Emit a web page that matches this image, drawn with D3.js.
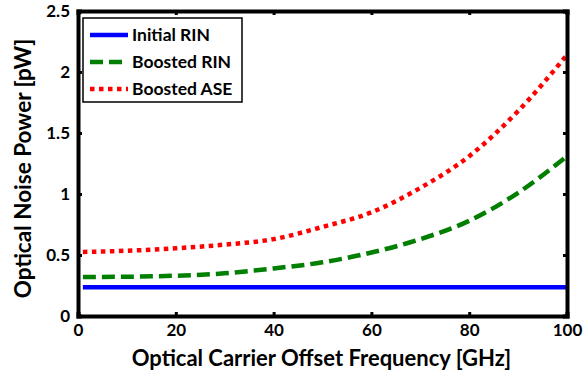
<!DOCTYPE html>
<html>
<head>
<meta charset="utf-8">
<script src="https://cdn.jsdelivr.net/npm/d3@7"></script>
<style>
  body { margin: 0; background: #fff; }
  text { font-family: Lato, "Open Sans", sans-serif; font-weight: bold; }
</style>
</head>
<body>
<svg id="chart"></svg>
<script>
const freq = [1, 10, 20, 30, 40, 50, 60, 70, 80, 90, 100];
const initialRin = [0.235, 0.235, 0.235, 0.235, 0.235, 0.235, 0.235, 0.235, 0.235, 0.235, 0.235];
const boostedRin = [0.32, 0.322, 0.33, 0.35, 0.39, 0.44, 0.52, 0.63, 0.78, 1.01, 1.31];
const boostedAse = [0.525, 0.535, 0.555, 0.585, 0.63, 0.73, 0.85, 1.05, 1.31, 1.68, 2.14];
const xTicks = [0, 20, 40, 60, 80, 100];
const yTicks = [0, 0.5, 1, 1.5, 2, 2.5];
const seriesNames = ["Initial RIN", "Boosted RIN", "Boosted ASE"];

const margin = {top: 11, right: 17, bottom: 62, left: 78},
    width = 584 - margin.left - margin.right,
    height = 378 - margin.top - margin.bottom;

const svg = d3.select("#chart")
    .attr("width", 584)
    .attr("height", 378)
    .append("g")
    .attr("transform", `translate(${margin.left}, ${margin.top})`);

const x = d3.scaleLinear().domain([0, 100]).range([0, width]);
const y = d3.scaleLinear().domain([0, 2.5]).range([height, 0]);

const series = [
    {name: seriesNames[0], values: initialRin, color: "#0000ff", dash: null, w: 4.5},
    {name: seriesNames[1], values: boostedRin, color: "#007f00", dash: "13,6", w: 4.5},
    {name: seriesNames[2], values: boostedAse, color: "#ff0000", dash: "4.5,4.5", w: 4.5}
];

const line = d3.line()
    .x((d, i) => x(freq[i]))
    .y(d => y(d))
    .curve(d3.curveMonotoneX);

svg.selectAll(".series")
    .data(series)
    .enter().append("path")
    .attr("class", "series")
    .attr("d", d => line(d.values))
    .attr("fill", "none")
    .attr("stroke", d => d.color)
    .attr("stroke-width", d => d.w)
    .attr("stroke-dasharray", d => d.dash);

// axes with inward ticks, mirrored on top and right
const xAxis = svg.append("g")
    .attr("transform", `translate(0, ${height})`)
    .call(d3.axisBottom(x).tickValues(xTicks).tickSize(-4).tickPadding(8));
const yAxis = svg.append("g")
    .call(d3.axisLeft(y).tickValues(yTicks).tickSize(-4).tickPadding(9).tickFormat(d3.format("")));
svg.append("g")
    .call(d3.axisTop(x).tickValues(xTicks).tickSize(-4).tickFormat(""));
svg.append("g")
    .attr("transform", `translate(${width}, 0)`)
    .call(d3.axisRight(y).tickValues(yTicks).tickSize(-4).tickFormat(""));

svg.selectAll(".domain").attr("stroke", "#000").attr("stroke-width", 4);
svg.selectAll(".tick line").attr("stroke", "#000").attr("stroke-width", 3);
svg.selectAll(".tick text")
    .attr("fill", "#000")
    .style("font-size", "17px")
    .style("font-family", "Lato, sans-serif")
    .style("font-weight", "bold");
yAxis.selectAll(".tick text").attr("x", -8);

// axis titles
svg.append("text")
    .attr("x", width / 2 - 1)
    .attr("y", height + 50)
    .attr("text-anchor", "middle")
    .style("font-size", "22px")
    .text("Optical Carrier Offset Frequency [GHz]");

svg.append("text")
    .attr("transform", `translate(${-47}, ${height / 2 + 5}) rotate(-90)`)
    .attr("text-anchor", "middle")
    .style("font-size", "22.5px")
    .text("Optical Noise Power [pW]");

// legend
const legend = svg.append("g").attr("transform", "translate(5, 7)");
legend.append("rect")
    .attr("width", 159)
    .attr("height", 84)
    .attr("fill", "#fff")
    .attr("stroke", "#000")
    .attr("stroke-width", 1.5);
const item = legend.selectAll(".item")
    .data(series)
    .enter().append("g")
    .attr("transform", (d, i) => `translate(0, ${17 + i * 27})`);
item.append("line")
    .attr("x1", 7).attr("x2", 45)
    .attr("stroke", d => d.color)
    .attr("stroke-width", d => d.w)
    .attr("stroke-dasharray", d => d.dash);
item.append("text")
    .attr("x", 49)
    .attr("dy", "0.35em")
    .style("font-size", "17.5px")
    .text(d => d.name);
</script>
</body>
</html>
